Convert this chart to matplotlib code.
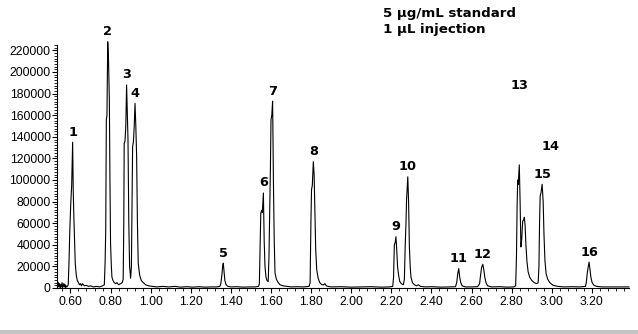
import numpy as np
import matplotlib
matplotlib.use("Agg")
import matplotlib.pyplot as plt
from matplotlib.ticker import MultipleLocator, FormatStrFormatter
from matplotlib.patches import Rectangle

# chromatogram trace: retention time (min) and detector signal (thousands of counts)
trace = [
    (0.535, 2), (0.540, 5), (0.543, 1), (0.546, 4), (0.549, 0.5), (0.552, 3), (0.555, 1),
    (0.558, 5), (0.561, 0.5), (0.564, 2), (0.567, 4), (0.570, 1), (0.573, 3), (0.576, 0.5),
    (0.579, 2), (0.582, 1), (0.586, 2),
    # 1
    (0.589, 3), (0.593, 25), (0.597, 54), (0.602, 80), (0.606, 94), (0.611, 135), (0.614, 90),
    (0.617, 66), (0.621, 40), (0.624, 23), (0.629, 12), (0.634, 7), (0.640, 5), (0.645, 3),
    (0.650, 4), (0.655, 2), (0.660, 4), (0.665, 3), (0.670, 2), (0.680, 2.5), (0.690, 1.5),
    (0.700, 2), (0.715, 1), (0.730, 1.5), (0.745, 1), (0.760, 2),
    # 2
    (0.769, 3), (0.773, 25), (0.776, 54), (0.779, 156), (0.782, 160), (0.786, 228), (0.790, 210),
    (0.794, 174), (0.797, 100), (0.800, 41), (0.804, 20), (0.807, 10), (0.812, 7), (0.818, 5),
    (0.825, 4), (0.832, 5), (0.840, 3), (0.850, 4), (0.858, 5),
    # 3
    (0.863, 8), (0.866, 60), (0.868, 134), (0.872, 136), (0.876, 150), (0.880, 188), (0.884, 160),
    (0.887, 137), (0.891, 60), (0.895, 20), (0.900, 9),
    # 4
    (0.904, 20), (0.907, 80), (0.910, 131), (0.914, 135), (0.918, 150), (0.922, 171), (0.926, 150),
    (0.930, 122), (0.934, 60), (0.938, 23), (0.945, 12), (0.953, 7), (0.963, 5), (0.975, 3),
    (0.990, 2), (1.010, 1.5), (1.030, 1), (1.060, 1.5), (1.090, 1), (1.120, 1.5), (1.150, 0.8),
    (1.180, 1.2), (1.210, 0.8), (1.240, 1.2), (1.270, 0.8), (1.300, 1), (1.330, 1), (1.345, 1.5),
    # 5
    (1.350, 4), (1.355, 12), (1.359, 20), (1.362, 23), (1.366, 15), (1.370, 7), (1.376, 3),
    (1.385, 1.5), (1.400, 1), (1.430, 1.2), (1.460, 0.8), (1.490, 1), (1.520, 1), (1.538, 1.5),
    # 6, 7
    (1.542, 4), (1.546, 40), (1.549, 69), (1.553, 72), (1.557, 70), (1.562, 88), (1.566, 44),
    (1.570, 20), (1.575, 10), (1.580, 7), (1.586, 6),
    (1.590, 30), (1.593, 63), (1.597, 110), (1.600, 156), (1.604, 160), (1.608, 173), (1.612, 100),
    (1.616, 45), (1.620, 14), (1.627, 8), (1.636, 5), (1.645, 3), (1.660, 2), (1.680, 1.5),
    (1.700, 1), (1.730, 1.2), (1.760, 1), (1.790, 1.5),
    # 8
    (1.795, 5), (1.799, 60), (1.802, 91), (1.806, 95), (1.811, 117), (1.815, 105), (1.819, 69),
    (1.823, 35), (1.828, 17), (1.835, 9), (1.843, 5), (1.853, 3), (1.862, 3), (1.869, 4),
    (1.876, 2), (1.885, 1.5), (1.900, 1), (1.950, 1.2), (2.000, 0.8), (2.050, 1), (2.100, 1.2),
    (2.150, 0.8), (2.190, 1), (2.207, 1.5),
    # 9, 10
    (2.211, 10), (2.215, 40), (2.219, 42), (2.223, 47.5), (2.227, 35), (2.231, 20), (2.236, 12),
    (2.242, 6), (2.250, 4), (2.260, 3),
    (2.265, 8), (2.269, 38), (2.273, 60), (2.276, 82), (2.282, 103), (2.286, 80), (2.290, 38),
    (2.294, 20), (2.298, 10), (2.305, 5), (2.315, 3), (2.325, 2), (2.335, 3), (2.345, 1.5),
    (2.370, 1), (2.400, 1.2), (2.450, 0.8), (2.490, 1), (2.520, 1.2),
    # 11, 12
    (2.526, 5), (2.531, 13), (2.536, 18), (2.541, 10), (2.546, 5), (2.553, 2), (2.570, 1),
    (2.600, 1), (2.630, 1.2),
    (2.640, 4), (2.645, 12), (2.650, 19), (2.656, 22), (2.661, 17), (2.666, 10), (2.672, 5),
    (2.680, 2), (2.700, 1), (2.740, 1.2), (2.780, 0.8), (2.810, 1), (2.820, 2),
    # 13, 14
    (2.824, 30), (2.827, 75), (2.830, 100), (2.833, 96), (2.838, 114), (2.842, 80), (2.846, 38),
    (2.850, 45), (2.855, 62), (2.860, 63), (2.863, 65.5), (2.867, 58), (2.871, 40), (2.876, 25),
    (2.882, 15), (2.890, 10), (2.900, 7), (2.912, 5), (2.925, 4), (2.932, 5),
    # 15
    (2.936, 20), (2.939, 60), (2.942, 85), (2.946, 88), (2.952, 96), (2.957, 80), (2.961, 50),
    (2.966, 25), (2.972, 13), (2.980, 8), (2.990, 5), (3.006, 2.5), (3.030, 1.5), (3.060, 1),
    (3.100, 1.2), (3.140, 1), (3.168, 1.5),
    # 16
    (3.172, 5), (3.177, 14), (3.182, 20), (3.186, 24), (3.190, 18), (3.195, 10), (3.201, 5),
    (3.210, 2.5), (3.224, 1.5), (3.250, 1), (3.300, 1), (3.350, 1), (3.385, 1),
]

# peak numbers and their apex retention times
peak_ids = [str(i) for i in range(1, 17)]
peak_rt = [0.611, 0.786, 0.880, 0.922, 1.362, 1.562, 1.608, 1.811,
           2.223, 2.282, 2.536, 2.656, 2.838, 2.863, 2.952, 3.186]

notes = ["5 \u00b5g/mL standard", "1 \u00b5L injection"]

rt = np.array([p[0] for p in trace])
signal = np.array([p[1] for p in trace]) * 1000

fig = plt.figure(figsize=(6.38, 3.34), dpi=100)
fig.patch.set_facecolor("white")
ax = fig.add_axes([57 / 638, 46 / 334, 572 / 638, 243 / 334])

ax.plot(rt, signal, color="black", lw=0.8, clip_on=False)

ax.set_xlim(0.533, 3.385)
ax.set_ylim(0, 225000)

ax.xaxis.set_major_locator(MultipleLocator(0.2))
ax.xaxis.set_minor_locator(MultipleLocator(0.04))
ax.xaxis.set_major_formatter(FormatStrFormatter("%.2f"))
ax.yaxis.set_major_locator(MultipleLocator(20000))
ax.yaxis.set_minor_locator(MultipleLocator(2500))
ax.tick_params(which="major", length=3.5, width=0.8, direction="out", pad=1,
               labelsize=8.8, labelfontfamily="Liberation Sans")
ax.tick_params(which="minor", length=2, width=0.6, direction="out")
ax.tick_params(axis="x", which="major", pad=2)

for side in ["top", "right"]:
    ax.spines[side].set_visible(False)
for side in ["left", "bottom"]:
    ax.spines[side].set_linewidth(0.8)

# peak number labels just above each apex; 13 and 14 sit higher up
offsets = {"13": (0.5, 52.5), "14": (19, 46)}
for pid, t in zip(peak_ids, peak_rt):
    i = np.argmin(np.abs(rt - t))
    dx, dy = offsets.get(pid, (0, 2.5))
    ax.annotate(pid, (rt[i], signal[i]), xytext=(dx, dy), textcoords="offset points",
                ha="center", va="bottom", fontsize=9.3, fontweight="bold",
                family="DejaVu Sans", annotation_clip=False)

for k, line in enumerate(notes):
    fig.text(383 / 638, 1 - (13 + 16 * k) / 334, line, ha="left", va="center",
             fontsize=9.6, fontweight="bold", family="DejaVu Sans")

fig.add_artist(Rectangle((0, 0), 1, 4 / 334, transform=fig.transFigure,
                         facecolor="#c4c4c4", edgecolor="none"))

fig.savefig("out.png", dpi=100)
